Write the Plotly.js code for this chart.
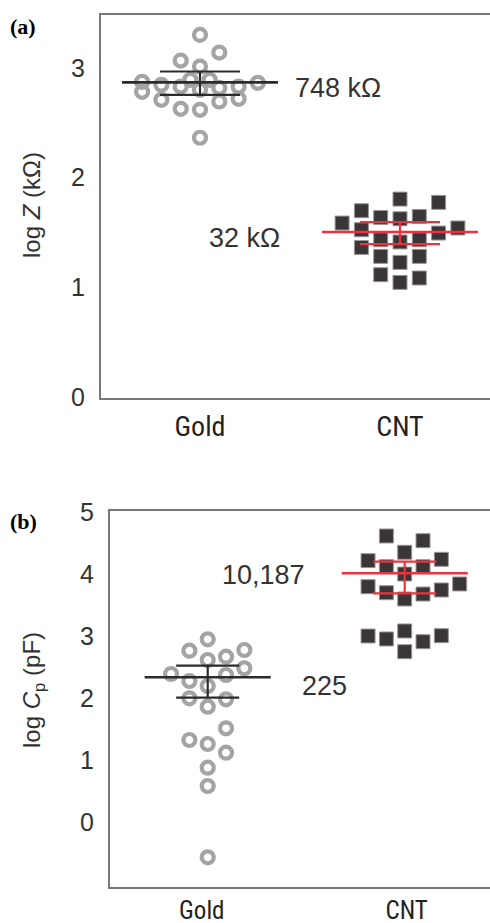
<!DOCTYPE html>
<html><head><meta charset="utf-8">
<script src="https://cdn.plot.ly/plotly-3.0.1.min.js"></script>
<style>html,body{margin:0;padding:0;background:#fff}#chart{width:490px;height:923px}</style>
</head><body><div id="chart"></div>
<script>
const categories = ["Gold", "CNT"];

// Panel (a): log Z (kΩ)
const goldZ     = [3.299, 3.138, 3.065, 3.011, 2.872, 2.781, 2.845, 2.708, 2.829, 2.626, 2.890, 2.799, 2.617, 2.890, 2.817, 2.693, 2.829, 2.717, 2.863, 2.363];
const goldZSlot = [0, 1, -1, 0, -3, -3, -2, -2, -1, -1, -0.5, 0, 0, 0.5, 1, 1, 2, 2, 3, 0];
const cntZ      = [1.805, 1.775, 1.699, 1.638, 1.626, 1.647, 1.587, 1.526, 1.496, 1.542, 1.435, 1.415, 1.435, 1.365, 1.284, 1.229, 1.284, 1.117, 1.047, 1.087];
const cntZSlot  = [0, 2, -2, -1, 0, 1, -3, -2, 2, 3, -1, 0, 1, -2, -1, 0, 1, -1, 0, 1];
const meanZ  = [2.867, 1.505];
const semZUp = [2.966, 1.596];
const semZLo = [2.754, 1.396];
const meanZLabels = ["748 kΩ", "32 kΩ"];

// Panel (b): log Cp (pF)
const goldC     = [2.947, 2.763, 2.774, 2.613, 2.666, 2.479, 2.387, 2.274, 2.371, 2.194, 1.995, 1.979, 1.860, 1.511, 1.323, 1.258, 1.118, 0.876, 0.581, -0.569];
const goldCSlot = [0, -1, 2, 0, 1, 2, -2, -1, 1, 0, -1, 1, 0, 1, -1, 0, 1, 0, 0, 0];
const cntC      = [4.613, 4.537, 4.350, 4.215, 4.237, 4.118, 4.118, 4.000, 3.795, 3.839, 3.698, 3.597, 3.677, 3.742, 3.000, 2.952, 3.081, 2.908, 3.005, 2.747];
const cntCSlot  = [-1, 1, 0, -2, 2, -1, 1, 0, -2, 3, -1, 0, 1, 2, -2, -1, 0, 1, 2, 0];
const meanC  = [2.334, 4.011];
const semCUp = [2.521, 4.198];
const semCLo = [2.005, 3.689];
const meanCLabels = ["225", "10,187"];

// styles
const GRAY = '#a4a4a4', DARK = '#3a3638', RED = '#e8343e', BLK = '#2b2b2b', AX = '#777';
const CATFONT = '"Roboto Condensed", "DejaVu Sans Condensed", Roboto, sans-serif';
const NUMFONT = '"Liberation Sans", Arial, sans-serif';

function swarm(vals, slots, cat, step, xa, ya, isGold) {
  return {
    x: slots.map(s => cat + s * step), y: vals, xaxis: xa, yaxis: ya,
    type: 'scatter', mode: 'markers', hoverinfo: 'skip', showlegend: false,
    marker: isGold
      ? {symbol: 'circle-open', size: 12, color: GRAY, line: {width: 4.2, color: GRAY}}
      : {symbol: 'square', size: 14, color: DARK, line: {width: 1, color: '#9a9698'}}
  };
}
function hline(cat, half, v, color, w, xa, ya) {
  return {x: [cat - half, cat + half], y: [v, v], xaxis: xa, yaxis: ya, type: 'scatter', mode: 'lines',
          line: {color: color, width: w}, hoverinfo: 'skip', showlegend: false};
}
function vline(cat, lo, hi, color, w, xa, ya) {
  return {x: [cat, cat], y: [lo, hi], xaxis: xa, yaxis: ya, type: 'scatter', mode: 'lines',
          line: {color: color, width: w}, hoverinfo: 'skip', showlegend: false};
}
function stats(mean, up, lo, colors, meanHalf, semHalf, xa, ya) {
  const t = [];
  [0, 1].forEach(i => {
    t.push(hline(i, semHalf, up[i], colors[i], 2.2, xa, ya));
    t.push(hline(i, semHalf, lo[i], colors[i], 2.2, xa, ya));
    t.push(vline(i, lo[i], up[i], colors[i], 2.2, xa, ya));
    t.push(hline(i, meanHalf, mean[i], colors[i], 2.6, xa, ya));
  });
  return t;
}

const data = [
  swarm(goldZ, goldZSlot, 0, 0.0965, 'x', 'y', true),
  swarm(cntZ, cntZSlot, 1, 0.0965, 'x', 'y', false),
  ...stats(meanZ, semZUp, semZLo, [BLK, RED], 0.39, 0.2, 'x', 'y'),
  swarm(goldC, goldCSlot, 0, 0.093, 'x2', 'y2', true),
  swarm(cntC, cntCSlot, 1, 0.093, 'x2', 'y2', false),
  ...stats(meanC, semCUp, semCLo, [BLK, RED], 0.32, 0.16, 'x2', 'y2')
];

const xcommon = {
  tickmode: 'array', tickvals: [0, 1], ticktext: categories, showgrid: false, zeroline: false,
  showline: true, linecolor: AX, linewidth: 2, mirror: true, ticks: '', ticklabelstandoff: 2,
  tickfont: {family: CATFONT, size: 28, color: '#222'}, fixedrange: true
};
const ycommon = {
  showgrid: false, zeroline: false, showline: true, linecolor: AX, linewidth: 2,
  ticks: '', ticklabelstandoff: 9, tickfont: {family: NUMFONT, size: 25, color: '#333'}, fixedrange: true
};

const ANNF = {family: NUMFONT, size: 27, color: '#333'};
const layout = {
  width: 490, height: 923, margin: {l: 0, r: 0, t: 0, b: 0},
  paper_bgcolor: '#fff', plot_bgcolor: '#fff', showlegend: false,
  xaxis: Object.assign({}, xcommon, {domain: [101/490, 1], range: [-0.495, 1.45], anchor: 'y'}),
  yaxis: Object.assign({}, ycommon, {domain: [525/923, 908/923], range: [-0.005, 3.48], tickvals: [0, 1, 2, 3], anchor: 'x'}),
  xaxis2: Object.assign({}, xcommon, {domain: [110/490, 1], range: [-0.496, 1.433], anchor: 'y2',
                         tickvals: [-0.03, 1.01], ticklabelstandoff: 0,
                         tickfont: {family: CATFONT, size: 25, color: '#222'}}),
  yaxis2: Object.assign({}, ycommon, {domain: [36/923, 412/923], range: [-1.048, 5.016], tickvals: [0, 1, 2, 3, 4, 5], anchor: 'x2'}),
  annotations: [
    {text: '<b>(a)</b>', xref: 'paper', yref: 'paper', x: 8/490, y: 1 - 27/923, xanchor: 'left', yanchor: 'middle',
     showarrow: false, font: {family: '"Liberation Serif", serif', size: 22, color: '#000'}},
    {text: '<b>(b)</b>', xref: 'paper', yref: 'paper', x: 8/490, y: 1 - 521/923, xanchor: 'left', yanchor: 'middle',
     showarrow: false, font: {family: '"Liberation Serif", serif', size: 22, color: '#000'}},
    {text: 'log <i>Z</i> (kΩ)', xref: 'paper', yref: 'paper', x: 31/490, y: 1 - 205/923, textangle: -90,
     xanchor: 'center', yanchor: 'middle', showarrow: false, font: {family: NUMFONT, size: 24, color: '#333'}},
    {text: 'log <i>C</i><sub>p</sub> (pF)', xref: 'paper', yref: 'paper', x: 33/490, y: 1 - 690/923, textangle: -90,
     xanchor: 'center', yanchor: 'middle', showarrow: false, font: {family: NUMFONT, size: 24, color: '#333'}},
    {text: meanZLabels[0], xref: 'x', yref: 'y', x: 0.465, y: meanZ[0], yshift: -6, xanchor: 'left', yanchor: 'middle',
     showarrow: false, font: ANNF},
    {text: meanZLabels[1], xref: 'x', yref: 'y', x: 0.41, y: meanZ[1], yshift: -6, xanchor: 'right', yanchor: 'middle',
     showarrow: false, font: ANNF},
    {text: meanCLabels[0], xref: 'x2', yref: 'y2', x: 0.468, y: meanC[0], yshift: -9, xanchor: 'left', yanchor: 'middle',
     showarrow: false, font: ANNF},
    {text: meanCLabels[1], xref: 'x2', yref: 'y2', x: 0.504, y: meanC[1], yshift: -2, xanchor: 'right', yanchor: 'middle',
     showarrow: false, font: ANNF}
  ]
};

Plotly.newPlot('chart', data, layout, {displayModeBar: false, staticPlot: true});
</script>
</body></html>
